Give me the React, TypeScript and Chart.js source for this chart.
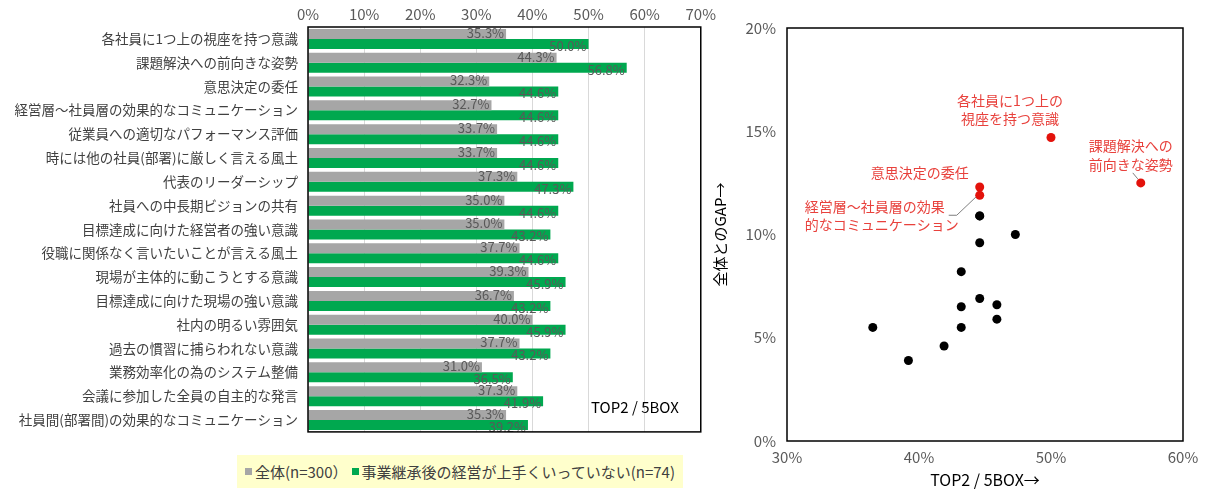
import React, { useEffect, useRef } from 'react';
import { Chart, registerables } from 'chart.js';

Chart.register(...registerables);

const FONT = '"Noto Sans CJK JP", "Noto Sans", sans-serif';

// left panel: TOP2 / 5BOX by item
const categories = [
  '各社員に1つ上の視座を持つ意識',
  '課題解決への前向きな姿勢',
  '意思決定の委任',
  '経営層～社員層の効果的なコミュニケーション',
  '従業員への適切なパフォーマンス評価',
  '時には他の社員(部署)に厳しく言える風土',
  '代表のリーダーシップ',
  '社員への中長期ビジョンの共有',
  '目標達成に向けた経営者の強い意識',
  '役職に関係なく言いたいことが言える風土',
  '現場が主体的に動こうとする意識',
  '目標達成に向けた現場の強い意識',
  '社内の明るい雰囲気',
  '過去の慣習に捕らわれない意識',
  '業務効率化の為のシステム整備',
  '会議に参加した全員の自主的な発言',
  '社員間(部署間)の効果的なコミュニケーション',
];
const overall = [35.3, 44.3, 32.3, 32.7, 33.7, 33.7, 37.3, 35.0, 35.0, 37.7, 39.3, 36.7, 40.0, 37.7, 31.0, 37.3, 35.3];
const struggling = [50.0, 56.8, 44.6, 44.6, 44.6, 44.6, 47.3, 44.6, 43.2, 44.6, 45.9, 43.2, 45.9, 43.2, 36.5, 41.9, 39.2];
const seriesNames = ['全体(n=300）', '事業継承後の経営が上手くいっていない(n=74)'];

// right panel: TOP2 of the struggling group vs. gap to overall
const gapX = [50.0, 56.8, 44.6, 44.6, 44.6, 44.6, 47.3, 44.6, 43.2, 44.6, 45.9, 43.2, 45.9, 43.2, 36.5, 41.9, 39.2];
const gapY = [14.7, 12.5, 12.3, 11.9, 10.9, 10.9, 10.0, 9.6, 8.2, 6.9, 6.6, 6.5, 5.9, 5.5, 5.5, 4.6, 3.9];
const highlighted = [0, 1, 2, 3];

const GRAY = '#A6A6A6';
const GREEN = '#00A84F';
const RED = '#E3120B';
const RED_TEXT = '#E8413C';

// callout text placed relative to its point (pixels)
const callouts = [
  { index: 0, lines: ['各社員に1つ上の', '視座を持つ意識'], dx: -41, dy: -37, align: 'center', leader: null },
  { index: 1, lines: ['課題解決への', '前向きな姿勢'], dx: -10, dy: -37, align: 'center', leader: [[-8, -10], [-3, -4]] },
  { index: 2, lines: ['意思決定の委任'], dx: -60, dy: -14, align: 'center', leader: null },
  { index: 3, lines: ['経営層～社員層の効果', '的なコミュニケーション'], dx: -175, dy: 11, align: 'left', leader: [[-31, 20], [-23, 20], [-3, 1]] },
];

const framePlugin = {
  id: 'frame',
  afterDraw(chart: any) {
    const { ctx, chartArea: a } = chart;
    ctx.save();
    ctx.strokeStyle = '#000';
    ctx.lineWidth = 1.5;
    ctx.strokeRect(a.left, a.top, a.right - a.left, a.bottom - a.top);
    ctx.restore();
  },
};

const barLabelPlugin = {
  id: 'barLabels',
  afterDatasetsDraw(chart: any) {
    const { ctx, chartArea } = chart;
    ctx.save();
    ctx.font = `13px ${FONT}`;
    ctx.fillStyle = '#595959';
    ctx.textAlign = 'right';
    ctx.textBaseline = 'middle';
    chart.data.datasets.forEach((ds: any, di: number) => {
      chart.getDatasetMeta(di).data.forEach((bar: any, i: number) => {
        ctx.fillText(ds.data[i].toFixed(1) + '%', bar.x - 2, bar.y + (di === 0 ? -1 : 2));
      });
    });
    ctx.font = `15px ${FONT}`;
    ctx.fillStyle = '#000';
    ctx.fillText('TOP2 / 5BOX', chartArea.right - 22, chartArea.bottom - 25);
    ctx.restore();
  },
};

const calloutPlugin = {
  id: 'callouts',
  beforeDatasetsDraw(chart: any) {
    const { ctx } = chart;
    const pts = chart.getDatasetMeta(0).data;
    ctx.save();
    ctx.strokeStyle = '#7F7F7F';
    ctx.lineWidth = 1;
    callouts.forEach((c) => {
      if (!c.leader) return;
      const p = pts[c.index];
      ctx.beginPath();
      c.leader.forEach(([lx, ly], k) => {
        if (k === 0) ctx.moveTo(p.x + lx, p.y + ly);
        else ctx.lineTo(p.x + lx, p.y + ly);
      });
      ctx.stroke();
    });
    ctx.restore();
  },
  afterDatasetsDraw(chart: any) {
    const { ctx } = chart;
    const pts = chart.getDatasetMeta(0).data;
    ctx.save();
    ctx.font = `14px ${FONT}`;
    ctx.fillStyle = RED_TEXT;
    ctx.textBaseline = 'middle';
    callouts.forEach((c) => {
      const p = pts[c.index];
      ctx.textAlign = c.align as CanvasTextAlign;
      c.lines.forEach((line, k) => {
        ctx.fillText(line, p.x + c.dx, p.y + c.dy + k * 18.5);
      });
    });
    ctx.restore();
  },
};

function BarPanel() {
  const ref = useRef<HTMLCanvasElement>(null);
  useEffect(() => {
    const chart = new Chart(ref.current!, {
      type: 'bar',
      data: {
        labels: categories,
        datasets: [
          { label: seriesNames[0], data: overall, backgroundColor: GRAY, categoryPercentage: 0.84, barPercentage: 1 },
          { label: seriesNames[1], data: struggling, backgroundColor: GREEN, categoryPercentage: 0.84, barPercentage: 1 },
        ],
      },
      options: {
        indexAxis: 'y',
        responsive: false,
        animation: false,
        layout: { padding: { top: 0, right: 13, bottom: 5, left: 0 } },
        plugins: { legend: { display: false }, tooltip: { enabled: false } },
        scales: {
          x: {
            position: 'top',
            min: 0,
            max: 70,
            ticks: {
              stepSize: 10,
              padding: 4,
              color: '#595959',
              font: { family: FONT, size: 15 },
              callback: (v: any) => v + '%',
            },
            grid: { color: '#D9D9D9', drawTicks: false },
            border: { display: false },
            afterFit: (s: any) => { s.height = 27; },
          },
          y: {
            ticks: { padding: 10, color: '#404040', font: { family: FONT, size: 13.5 }, autoSkip: false },
            grid: { display: false, drawTicks: false },
            border: { display: false },
            afterFit: (s: any) => { s.width = 308; },
          },
        },
      },
      plugins: [barLabelPlugin, framePlugin],
    });
    return () => chart.destroy();
  }, []);
  return <canvas ref={ref} width={720} height={450} style={{ position: 'absolute', left: 0, top: 0 }} />;
}

function ScatterPanel() {
  const ref = useRef<HTMLCanvasElement>(null);
  useEffect(() => {
    const colors = gapX.map((_, i) => (highlighted.includes(i) ? RED : '#000'));
    const chart = new Chart(ref.current!, {
      type: 'scatter',
      data: {
        datasets: [
          {
            data: gapX.map((x, i) => ({ x, y: gapY[i] })),
            pointRadius: 4.5,
            pointBorderWidth: 0,
            pointBackgroundColor: colors,
            pointBorderColor: colors,
          },
        ],
      },
      options: {
        responsive: false,
        animation: false,
        layout: { padding: { top: 28, right: 26, bottom: 0, left: 0 } },
        plugins: { legend: { display: false }, tooltip: { enabled: false } },
        scales: {
          x: {
            min: 30,
            max: 60,
            ticks: {
              stepSize: 10,
              padding: 7,
              color: '#595959',
              font: { family: FONT, size: 15 },
              callback: (v: any) => v + '%',
            },
            grid: { display: false, drawTicks: false },
            border: { display: false },
            title: {
              display: true,
              text: 'TOP2 / 5BOX→',
              color: '#000',
              font: { family: FONT, size: 16 },
              padding: { top: 0, bottom: 2 },
            },
            afterFit: (s: any) => { s.height = 51; },
          },
          y: {
            min: 0,
            max: 20,
            ticks: {
              stepSize: 5,
              padding: 11,
              color: '#595959',
              font: { family: FONT, size: 15 },
              callback: (v: any) => v + '%',
            },
            grid: { display: false, drawTicks: false },
            border: { display: false },
            title: {
              display: true,
              text: '全体とのGAP→',
              color: '#000',
              font: { family: FONT, size: 15 },
              padding: { top: 11, bottom: 0 },
            },
            afterFit: (s: any) => { s.width = 87; },
          },
        },
      },
      plugins: [calloutPlugin, framePlugin],
    });
    return () => chart.destroy();
  }, []);
  return <canvas ref={ref} width={509} height={492} style={{ position: 'absolute', left: 700, top: 0 }} />;
}

function Legend() {
  const item = (color: string, text: string, gap: number) => (
    <span style={{ display: 'flex', alignItems: 'center', marginRight: gap }}>
      <span style={{ width: 7, height: 7, background: color, marginRight: 3, display: 'inline-block' }} />
      {text}
    </span>
  );
  return (
    <div
      style={{
        position: 'absolute',
        left: 237,
        top: 455,
        width: 446,
        height: 33,
        background: '#FFFFCC',
        display: 'flex',
        alignItems: 'center',
        justifyContent: 'center',
        fontFamily: FONT,
        fontSize: 15,
        color: '#404040',
        whiteSpace: 'nowrap',
      }}
    >
      {item(GRAY, seriesNames[0], 4)}
      {item(GREEN, seriesNames[1], 0)}
    </div>
  );
}

export default function App() {
  return (
    <div style={{ position: 'fixed', left: 0, top: 0, width: 1209, height: 492, background: '#fff', overflow: 'hidden' }}>
      <BarPanel />
      <ScatterPanel />
      <Legend />
    </div>
  );
}
